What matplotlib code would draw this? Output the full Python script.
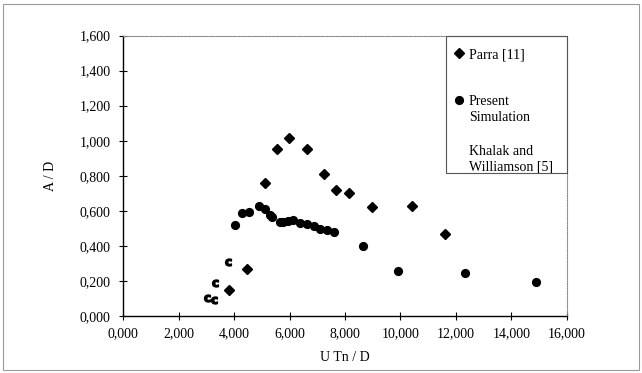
import matplotlib
matplotlib.use("Agg")
import matplotlib.pyplot as plt
from matplotlib.lines import Line2D
from matplotlib.patches import Rectangle
from matplotlib.ticker import FuncFormatter

# ---- data ----
parra_x = [3.81, 4.45, 5.10, 5.54, 5.99, 6.62, 7.23, 7.68, 8.15, 8.99, 10.42, 11.61]
parra_y = [0.15, 0.27, 0.76, 0.95, 1.015, 0.95, 0.81, 0.72, 0.70, 0.62, 0.63, 0.47]

sim_x = [4.03, 4.29, 4.54, 4.88, 5.12, 5.28, 5.37, 5.64, 5.77, 5.95, 6.12,
         6.38, 6.64, 6.87, 7.10, 7.36, 7.60, 8.64, 9.90, 12.33, 14.89]
sim_y = [0.52, 0.585, 0.595, 0.625, 0.61, 0.575, 0.563, 0.537, 0.535, 0.54, 0.546,
         0.53, 0.525, 0.514, 0.495, 0.488, 0.477, 0.40, 0.255, 0.245, 0.195]

khalak_x = [3.02, 3.27, 3.31, 3.77]
khalak_y = [0.10, 0.09, 0.19, 0.31]

x_ticks = [0, 2, 4, 6, 8, 10, 12, 14, 16]
y_ticks = [0.0, 0.2, 0.4, 0.6, 0.8, 1.0, 1.2, 1.4, 1.6]

plt.rcParams["font.family"] = ["Liberation Serif", "DejaVu Serif"]
plt.rcParams["font.size"] = 10

W, H = 642, 373
fig = plt.figure(figsize=(W / 100, H / 100), dpi=100)
ax = fig.add_axes([123.3 / W, 1 - 316 / H, 443.4 / W, 280.5 / H])

# outer frame round the whole figure
fig.patches.append(Rectangle((3 / W, 3 / H), 636 / W, 366 / H, transform=fig.transFigure,
                             fill=False, edgecolor="#9a9a9a", linewidth=0.8))

ax.plot(parra_x, parra_y, ls="none", marker="D", ms=4.8, color="black")
ax.plot(sim_x, sim_y, ls="none", marker="o", ms=5.6, color="black")
ax.plot(khalak_x, khalak_y, ls="none", marker=r"$\mathbf{c}$", ms=5, color="black")

ax.set_xlim(0, 16)
ax.set_ylim(0, 1.6)
ax.set_xticks(x_ticks)
ax.set_yticks(y_ticks)
fmt = FuncFormatter(lambda v, _: f"{v:.3f}".replace(".", ","))
ax.xaxis.set_major_formatter(fmt)
ax.yaxis.set_major_formatter(fmt)
ax.tick_params(direction="inout", length=6, width=0.8, color="black")
ax.tick_params(axis="y", pad=6)
ax.tick_params(axis="x", pad=5)

for side in ("left", "bottom"):
    ax.spines[side].set_linewidth(1.0)
    ax.spines[side].set_color("black")
for side in ("top", "right"):
    ax.spines[side].set_linestyle((0, (1, 1.2)))
    ax.spines[side].set_color("#8a8a8a")
    ax.spines[side].set_linewidth(0.8)

ax.set_xlabel("U Tn / D", labelpad=8)
ax.set_ylabel("A / D", labelpad=16)

# legend: frame drawn separately so its box matches the reference
fig.patches.append(Rectangle((445.7 / W, 1 - 172.7 / H), 121 / W, 136.7 / H,
                             transform=fig.transFigure, fill=False,
                             edgecolor="#555555", linewidth=0.8, zorder=5))
handles = [
    Line2D([], [], ls="none", marker="D", ms=4.8, color="black"),
    Line2D([], [], ls="none", marker="o", ms=5.6, color="black"),
]
leg = ax.legend(handles, ["Parra [11]", "Present"], loc="upper left",
                bbox_to_anchor=(444.4 / W, 1 - 40 / H),
                bbox_transform=fig.transFigure, borderaxespad=0, frameon=False,
                borderpad=0.6, handlelength=0.9, handletextpad=0.25,
                labelspacing=2.42, fontsize=10)
# continuation lines of the legend (no marker of their own)
for txt, ypix in [("Simulation", 117.7), ("Khalak and", 151), ("Williamson [5]", 166.7)]:
    fig.text(469 / W, 1 - ypix / H, txt, ha="left", va="center", fontsize=10)

fig.savefig("out.png", dpi=100)
